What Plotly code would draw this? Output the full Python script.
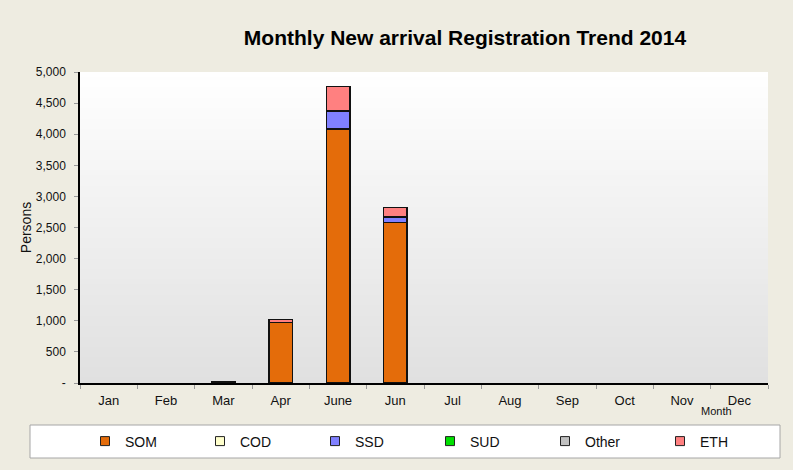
import plotly.graph_objects as go

months = ["Jan", "Feb", "Mar", "Apr", "June", "Jun", "Jul", "Aug", "Sep", "Oct", "Nov", "Dec"]
som   = [None, None, 15, 975, 4080, 2580, None, None, None, None, None, None]
cod   = [None] * 12
ssd   = [None, None, None, None, 290, 90, None, None, None, None, None, None]
sud   = [None] * 12
other = [None, None, None, None, 10, 5, None, None, None, None, None, None]
eth   = [None, None, None, 45, 385, 145, None, None, None, None, None, None]

series = [
    ("SOM", som, "#e46c0a"),
    ("COD", cod, "#ffffcc"),
    ("SSD", ssd, "#8080ff"),
    ("SUD", sud, "#00e000"),
    ("Other", other, "#c0c0c0"),
    ("ETH", eth, "#ff8080"),
]

yticks = [0, 500, 1000, 1500, 2000, 2500, 3000, 3500, 4000, 4500, 5000]
yticklabels = ["-"] + [f"{v:,}" for v in yticks[1:]]

fig = go.Figure()
for name, vals, col in series:
    fig.add_trace(go.Bar(
        x=months, y=vals, name=name, showlegend=False,
        marker=dict(color=col, line=dict(color="#111111", width=1.5)),
    ))
# legend-only entries with small square swatches
for name, vals, col in series:
    fig.add_trace(go.Scatter(
        x=[None], y=[None], mode="markers", name=name,
        marker=dict(symbol="square", size=9, color=col,
                    line=dict(color="#222222", width=1)),
    ))

# gradient plot background (white top -> light grey bottom)
shapes = []
n = 60
for i in range(n):
    t = i / (n - 1)
    g = int(round(255 - (255 - 224) * (1 - t)))
    shapes.append(dict(type="rect", xref="paper", yref="paper",
                       x0=0, x1=1, y0=i / n, y1=min(1, (i + 1.6) / n),
                       fillcolor=f"rgb({g},{g},{g})", line=dict(width=0),
                       layer="below"))
# legend box
shapes.append(dict(type="rect", xref="paper", yref="paper",
                   x0=(30 - 80) / 688, x1=(780 - 80) / 688,
                   y0=-(458 - 383) / 311, y1=-(425 - 383) / 311,
                   fillcolor="white", line=dict(color="#a6a6a6", width=1),
                   layer="below"))

fig.update_layout(
    width=793, height=470,
    margin=dict(l=80, r=25, t=72, b=87, autoexpand=False),
    paper_bgcolor="#eeece1",
    plot_bgcolor="#e0e0e0",
    barmode="stack",
    bargap=0.59,
    font=dict(family="Liberation Sans, Arial, sans-serif", size=12, color="#111111"),
    title=dict(text="<b>Monthly New arrival Registration Trend 2014</b>",
               x=465 / 793, xanchor="center", y=1 - 38 / 470, yanchor="middle",
               font=dict(size=21, color="black")),
    shapes=shapes,
    showlegend=True,
    legend=dict(orientation="h", x=(85 - 80) / 688, xanchor="left",
                y=-(441.5 - 383) / 311, yanchor="middle",
                bgcolor="rgba(0,0,0,0)", borderwidth=0,
                entrywidth=70, entrywidthmode="pixels",
                font=dict(size=14), traceorder="normal",
                itemclick=False, itemdoubleclick=False),
    xaxis=dict(showline=True, linecolor="black", linewidth=1.5,
               ticks="outside", ticklen=4, tickcolor="#999999",
               tickson="boundaries", tickfont=dict(size=13),
               ticklabelstandoff=5, showgrid=False),
    yaxis=dict(range=[0, 5000], tickvals=yticks, ticktext=yticklabels,
               showline=True, linecolor="black", linewidth=1.5,
               ticks="outside", ticklen=4, tickcolor="#999999",
               ticklabelstandoff=6,
               showgrid=False, zeroline=False, tickfont=dict(size=12),
               title=dict(text="Persons", font=dict(size=14), standoff=1)),
    annotations=[dict(text="Month", xref="paper", yref="paper",
                      x=(716 - 80) / 688, y=-(411 - 383) / 311,
                      xanchor="center", yanchor="middle", showarrow=False,
                      font=dict(size=11))],
)

fig.write_html("out.html", config={"displayModeBar": False},
               post_script="document.body.style.margin='0';")
